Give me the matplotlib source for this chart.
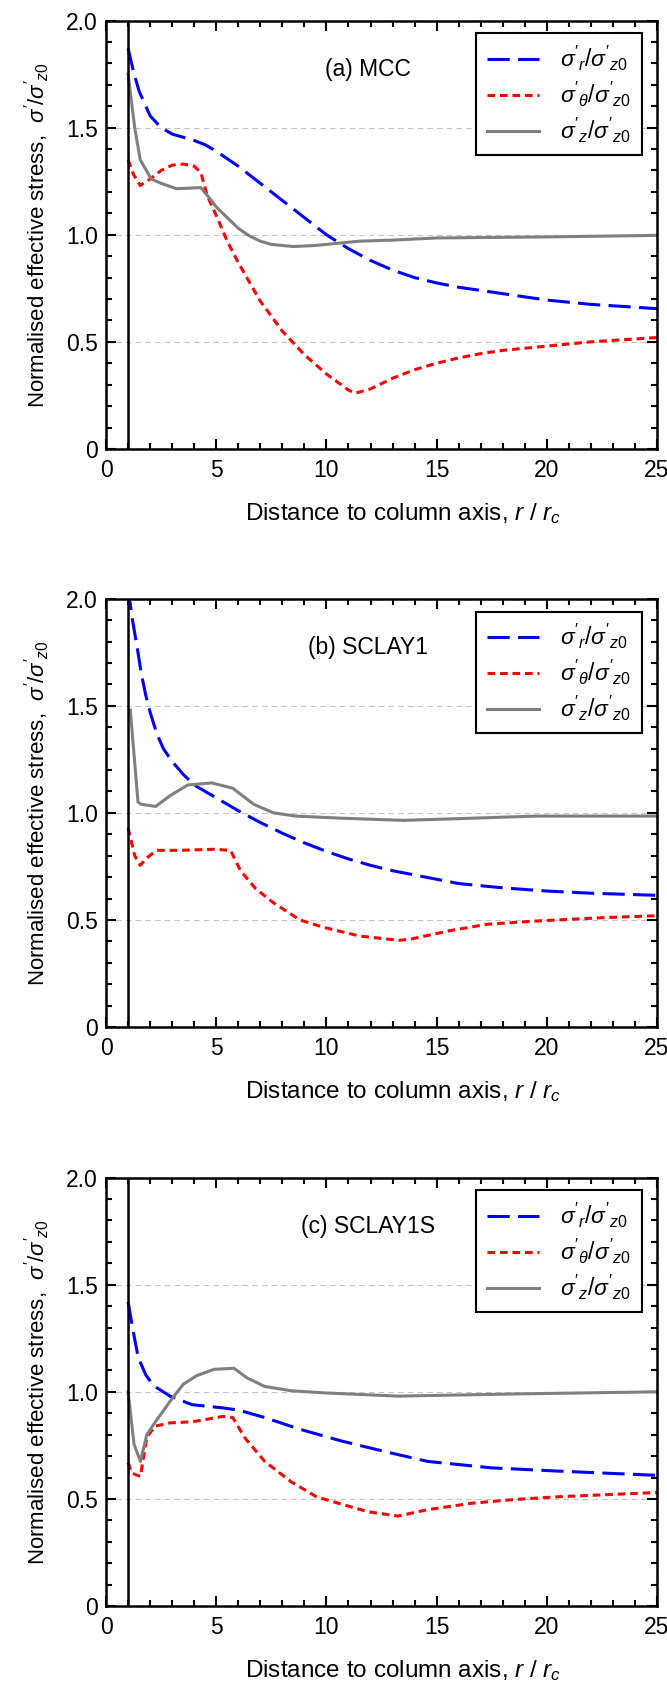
"""Normalised effective stress around a stone column for three soil models."""

import matplotlib

matplotlib.use("Agg")
import matplotlib.pyplot as plt
from matplotlib.ticker import MultipleLocator, FixedFormatter, FixedLocator

plt.rcParams["font.family"] = ["Liberation Sans", "DejaVu Sans"]
plt.rcParams["mathtext.fontset"] = "custom"
plt.rcParams["mathtext.rm"] = "Liberation Sans"
plt.rcParams["mathtext.it"] = "Liberation Sans:italic"
plt.rcParams["mathtext.bf"] = "Liberation Sans:bold"
plt.rcParams["lines.scale_dashes"] = False

# (a) MCC
mcc_r_x = [1.0, 1.25, 1.5, 2.0, 2.5, 3.0, 3.5, 4.0, 4.5, 5.0, 6.0, 7.0, 8.0, 9.0,
           10.0, 11.0, 12.0, 13.0, 14.0, 15.0, 16.0, 17.0, 18.0, 20.0, 22.0, 25.0]
mcc_r_y = [1.87, 1.76, 1.67, 1.555, 1.50, 1.47, 1.455, 1.44, 1.42, 1.39, 1.32, 1.24,
           1.16, 1.08, 1.0, 0.935, 0.88, 0.835, 0.80, 0.775, 0.755, 0.74, 0.725,
           0.695, 0.675, 0.655]
mcc_t_x = [1.0, 1.25, 1.55, 2.0, 2.5, 3.0, 3.5, 4.0, 4.3, 4.6, 5.0, 5.5, 6.0, 7.0,
           8.0, 9.0, 10.0, 11.0, 11.3, 12.0, 13.0, 14.0, 15.0, 16.0, 17.0, 18.0,
           20.0, 22.0, 25.0]
mcc_t_y = [1.35, 1.28, 1.23, 1.26, 1.30, 1.325, 1.33, 1.32, 1.29, 1.18, 1.09, 0.97,
           0.87, 0.69, 0.55, 0.44, 0.35, 0.275, 0.26, 0.28, 0.33, 0.37, 0.40, 0.425,
           0.445, 0.46, 0.48, 0.50, 0.52]
mcc_z_x = [1.0, 1.3, 1.55, 2.05, 2.5, 3.2, 4.3, 4.7, 5.0, 5.5, 6.0, 6.5, 7.0, 7.5,
           8.5, 9.5, 10.5, 11.5, 13.0, 15.0, 20.0, 25.0]
mcc_z_y = [1.75, 1.50, 1.35, 1.26, 1.24, 1.215, 1.22, 1.17, 1.13, 1.08, 1.03, 0.995,
           0.97, 0.955, 0.945, 0.95, 0.96, 0.97, 0.975, 0.985, 0.99, 0.997]

# (b) SCLAY1
sclay1_r_x = [1.0, 1.2, 1.4, 1.6, 1.8, 2.0, 2.3, 2.6, 3.0, 3.5, 4.0, 4.5, 5.0, 6.0,
              7.0, 8.0, 9.0, 10.0, 11.0, 12.0, 13.0, 14.0, 15.0, 16.0, 17.0, 18.0,
              20.0, 22.0, 25.0]
sclay1_r_y = [2.05, 1.90, 1.78, 1.65, 1.55, 1.47, 1.37, 1.30, 1.24, 1.18, 1.13, 1.10,
              1.07, 1.01, 0.955, 0.905, 0.86, 0.82, 0.785, 0.755, 0.73, 0.71, 0.69,
              0.67, 0.66, 0.65, 0.635, 0.625, 0.615]
sclay1_t_x = [1.0, 1.3, 1.55, 1.85, 2.3, 3.3, 4.9, 5.65, 6.1, 6.8, 7.6, 8.8, 9.9,
              11.5, 13.3, 13.8, 15.6, 17.3, 19.5, 22.4, 25.0]
sclay1_t_y = [0.93, 0.80, 0.755, 0.79, 0.825, 0.825, 0.83, 0.825, 0.73, 0.645, 0.58,
              0.50, 0.465, 0.425, 0.405, 0.41, 0.45, 0.48, 0.495, 0.51, 0.52]
sclay1_z_x = [1.1, 1.45, 1.6, 2.25, 2.9, 3.7, 4.8, 5.75, 6.7, 7.6, 8.6, 10.7, 13.5,
              16.6, 19.5, 25.0]
sclay1_z_y = [1.48, 1.05, 1.04, 1.03, 1.08, 1.13, 1.14, 1.115, 1.04, 1.0, 0.985,
              0.975, 0.965, 0.975, 0.985, 0.985]

# (c) SCLAY1S
sclay1s_r_x = [1.0, 1.2, 1.46, 1.8, 2.14, 2.9, 3.9, 5.3, 6.0, 7.2, 8.8, 10.7, 12.7,
               14.6, 17.5, 20.5, 25.0]
sclay1s_r_y = [1.42, 1.30, 1.16, 1.08, 1.03, 0.98, 0.94, 0.925, 0.915, 0.88, 0.825,
               0.77, 0.72, 0.675, 0.645, 0.63, 0.61]
sclay1s_t_x = [1.0, 1.17, 1.56, 1.85, 2.24, 2.9, 3.9, 5.3, 5.75, 6.3, 7.2, 8.4, 9.55,
               10.7, 11.9, 13.25, 14.6, 16.6, 18.5, 20.5, 25.0]
sclay1s_t_y = [0.67, 0.62, 0.605, 0.79, 0.84, 0.855, 0.86, 0.885, 0.88, 0.785, 0.675,
               0.58, 0.51, 0.475, 0.44, 0.42, 0.45, 0.48, 0.497, 0.51, 0.53]
sclay1s_z_x = [1.0, 1.27, 1.56, 1.85, 2.24, 2.9, 3.5, 4.1, 4.9, 5.8, 6.4, 7.2, 8.4,
               9.9, 13.25, 18.5, 25.0]
sclay1s_z_y = [1.0, 0.755, 0.675, 0.80, 0.86, 0.955, 1.035, 1.075, 1.105, 1.11, 1.065,
               1.025, 1.005, 0.995, 0.98, 0.99, 1.0]

panel_titles = ["(a) MCC", "(b) SCLAY1", "(c) SCLAY1S"]
legend_labels = [r"$\sigma'_r/\sigma'_{z0}$", r"$\sigma'_\theta/\sigma'_{z0}$",
                 r"$\sigma'_z/\sigma'_{z0}$"]
x_ticks = [0, 5, 10, 15, 20, 25]
y_ticks = [0, 0.5, 1.0, 1.5, 2.0]
y_tick_labels = ["0", "0.5", "1.0", "1.5", "2.0"]
column_edge = 1.0

panels = [
    (mcc_r_x, mcc_r_y, mcc_t_x, mcc_t_y, mcc_z_x, mcc_z_y),
    (sclay1_r_x, sclay1_r_y, sclay1_t_x, sclay1_t_y, sclay1_z_x, sclay1_z_y),
    (sclay1s_r_x, sclay1s_r_y, sclay1s_t_x, sclay1s_t_y, sclay1s_z_x, sclay1s_z_y),
]

fig = plt.figure(figsize=(6.67, 16.84), dpi=100)
bottoms = [0.7334, 0.3901, 0.0463]
height = 0.2544


def draw_panel(ax, data, title):
    rx, ry, tx, ty, zx, zy = data
    ax.plot(rx, ry, color="#0000ff", lw=2.2, dashes=(16, 6), label=legend_labels[0])
    ax.plot(tx, ty, color="#ff0000", lw=2.2, dashes=(5.5, 3.5), label=legend_labels[1])
    ax.plot(zx, zy, color="#808080", lw=2.2, label=legend_labels[2])
    ax.axvline(column_edge, color="black", lw=1.8)

    for y in y_ticks[1:-1]:
        ax.axhline(y, color="#c4c4c4", lw=0.8, dashes=(4, 3), zorder=0)

    ax.set_xlim(0, 25)
    ax.set_ylim(0, 2.0)
    ax.xaxis.set_major_locator(FixedLocator(x_ticks))
    ax.xaxis.set_minor_locator(MultipleLocator(1))
    ax.yaxis.set_major_locator(FixedLocator(y_ticks))
    ax.yaxis.set_major_formatter(FixedFormatter(y_tick_labels))
    ax.yaxis.set_minor_locator(MultipleLocator(0.1))
    ax.tick_params(which="both", direction="in", top=True, right=True, width=1.5,
                   labelsize=16.5)
    ax.tick_params(which="major", length=7)
    ax.tick_params(which="minor", length=4.5)
    ax.tick_params(axis="x", pad=7)
    ax.tick_params(axis="y", pad=6)
    for spine in ax.spines.values():
        spine.set_linewidth(1.8)

    ax.text(11.9, 1.77, title, ha="center", va="center", fontsize=16.5)
    ax.set_xlabel(r"Distance to column axis, $r$ / $r_c$", fontsize=17.5, labelpad=14,
                  x=0.54)
    ax.set_ylabel(r"Normalised effective stress,  $\sigma'/\sigma'_{z0}$", fontsize=16,
                  labelpad=10)

    leg = ax.legend(loc="upper right", bbox_to_anchor=(0.972, 0.97), borderaxespad=0,
                    fontsize=16.5, handlelength=2.3, fancybox=False, framealpha=1,
                    edgecolor="black", borderpad=0.45, labelspacing=0.3,
                    handletextpad=0.9)
    leg.get_frame().set_linewidth(1.5)


for bottom, data, title in zip(bottoms, panels, panel_titles):
    ax = fig.add_axes([0.159, bottom, 0.826, height])
    draw_panel(ax, data, title)

fig.savefig("out.png", dpi=100)
